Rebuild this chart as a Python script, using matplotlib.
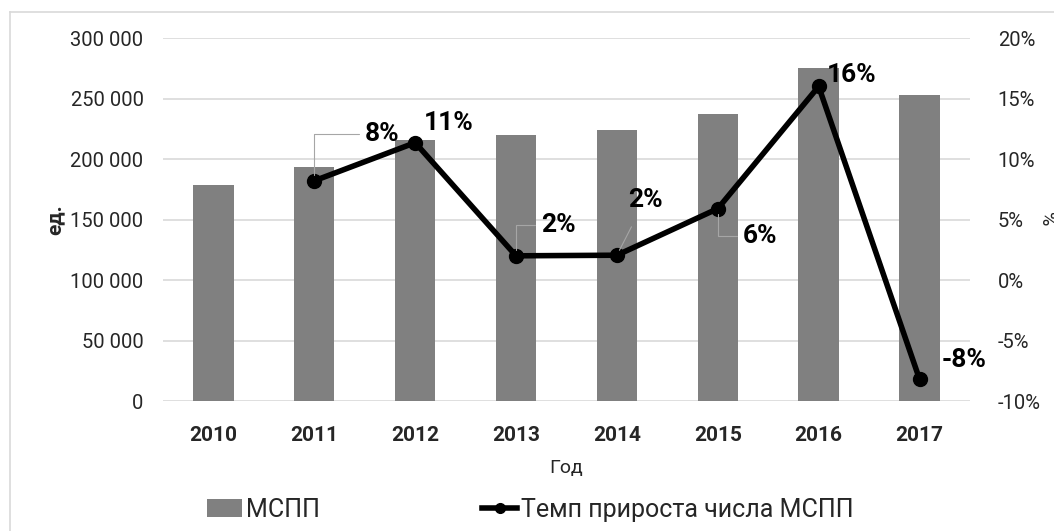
import matplotlib.pyplot as plt
from matplotlib.lines import Line2D
from matplotlib.ticker import FuncFormatter

years = ["2010", "2011", "2012", "2013", "2014", "2015", "2016", "2017"]
mspp_count = [178500, 193400, 215400, 219600, 224000, 237200, 275200, 252900]
growth_years = ["2011", "2012", "2013", "2014", "2015", "2016", "2017"]
growth_pct = [8.2, 11.35, 2.0, 2.05, 5.9, 16.0, -8.2]
growth_labels = ["8%", "11%", "2%", "2%", "6%", "16%", "-8%"]

# смещения подписей (в пунктах) и вид выноски
label_offsets = [(36, 34), (6, 14), (18, 22), (8, 40), (18, -20), (6, 8), (16, 14)]
label_leader = ["angle", None, "angle", "line", "angle", None, None]

FONT = ["Roboto", "DejaVu Sans"]
plt.rcParams["font.family"] = FONT
TEXT_C = "#262626"
GRID_C = "#d9d9d9"

fig = plt.figure(figsize=(10.54, 5.31), dpi=100)
ax = fig.add_axes([0.1546, 0.2448, 0.7657, 0.6836])
ax2 = ax.twinx()

x = list(range(len(years)))
ax.bar(x, mspp_count, width=0.4, color="#808080", zorder=2, label="МСПП")
ax.set_ylim(0, 300000)
ax.set_yticks(range(0, 300001, 50000))
ax.yaxis.set_major_formatter(FuncFormatter(lambda v, p: f"{int(v):,}".replace(",", " ")))
ax.grid(axis="y", color=GRID_C, linewidth=1.2, zorder=0)
ax.set_axisbelow(True)
ax.set_xlim(-0.5, len(years) - 0.5)
ax.set_xticks(x)
ax.set_xticklabels(years, fontsize=15, fontweight="bold", color=TEXT_C)
ax.tick_params(axis="y", labelsize=14.5, colors=TEXT_C, length=0, pad=14)
ax.tick_params(axis="x", length=0, pad=18)
ax.set_xlabel("Год", fontsize=14, color=TEXT_C, labelpad=10)
ax.set_ylabel("ед.", fontsize=15, fontweight="bold", color=TEXT_C, labelpad=4)

gx = [years.index(g) for g in growth_years]
ax2.plot(gx, growth_pct, color="black", linewidth=4, marker="o", markersize=10,
         zorder=3, label="Темп прироста числа МСПП")
ax2.set_ylim(-10, 20)
ax2.set_yticks(range(-10, 21, 5))
ax2.yaxis.set_major_formatter(FuncFormatter(lambda v, p: f"{int(v)}%"))
ax2.tick_params(axis="y", labelsize=14.5, colors=TEXT_C, length=0, pad=20)
ax2.set_ylabel("%", fontsize=14, color=TEXT_C, rotation=-90, labelpad=10)

for xi, yi, lab, off, lead in zip(gx, growth_pct, growth_labels, label_offsets, label_leader):
    arrow = None
    if lead == "angle":
        arrow = dict(arrowstyle="-", color="#a6a6a6", lw=0.8, shrinkA=2, shrinkB=4,
                     connectionstyle="angle,angleA=0,angleB=90,rad=0")
    elif lead == "line":
        arrow = dict(arrowstyle="-", color="#a6a6a6", lw=0.8, shrinkA=10, shrinkB=4)
    ax2.annotate(lab, (xi, yi), xytext=off, textcoords="offset points",
                 fontsize=19, fontweight="bold", color="black",
                 ha="left", va="center", arrowprops=arrow, zorder=4)

for a in (ax, ax2):
    for s in a.spines.values():
        s.set_visible(False)

# легенда
h1, l1 = ax.get_legend_handles_labels()
h2, l2 = ax2.get_legend_handles_labels()
fig.legend(h1 + h2, l1 + l2, loc="center", bbox_to_anchor=(0.503, 0.04), ncol=2,
           frameon=False, fontsize=18, columnspacing=6.5, handlelength=1.4,
           handletextpad=0.15, labelcolor=TEXT_C, markerscale=0.7)

# рамка области диаграммы
fig.add_artist(Line2D([10 / 1054, 10 / 1054], [0, 1 - 12 / 531], color=GRID_C, lw=1.2))
fig.add_artist(Line2D([10 / 1054, 1], [1 - 12 / 531, 1 - 12 / 531], color=GRID_C, lw=1.2))

plt.savefig("out.png", dpi=100)
